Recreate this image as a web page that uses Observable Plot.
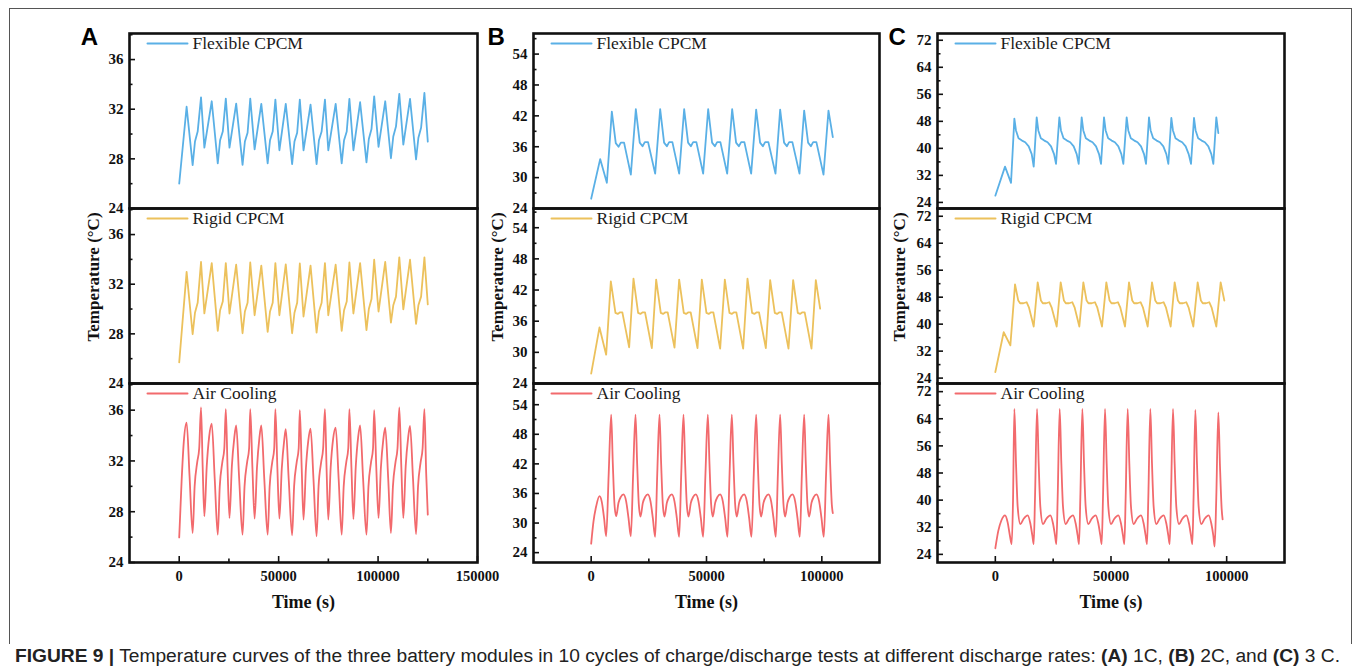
<!DOCTYPE html>
<html>
<head>
<meta charset="utf-8">
<script src="https://cdn.jsdelivr.net/npm/d3@7"></script>
<script src="https://cdn.jsdelivr.net/npm/@observablehq/plot@0.6"></script>
<style>
  html, body { margin: 0; padding: 0; background: #fff; }
  #wrap { position: relative; width: 1355px; height: 672px; overflow: hidden; background: #fff; }
  .panel { position: absolute; }
  #box { position: absolute; left: 9px; top: 8px; width: 1343px; height: 636px; border: 1px solid #555; border-bottom: none; box-sizing: border-box; }
  #cap { position: absolute; left: 15px; top: 645px; font-family: "Liberation Sans", Arial, sans-serif; font-size: 19.2px; color: #222; white-space: nowrap; }
</style>
</head>
<body>
<div id="wrap">
  <div id="box"></div>
  <div id="cap"><b>FIGURE 9 |</b> Temperature curves of the three battery modules in 10 cycles of charge/discharge tests at different discharge rates: <b>(A)</b> 1C, <b>(B)</b> 2C, and <b>(C)</b> 3 C.</div>
</div>
<script>
// ---------- series names ----------
const seriesNames = ["Flexible CPCM", "Rigid CPCM", "Air Cooling"];
const panelLetters = ["A", "B", "C"];

// ---------- Column A (1C) ----------
const timeA = [0,3720,6755,7930,9280,10965,12650,16355,
  19385,20560,21910,23430,25280,28650,
  31850,33030,34380,35725,37915,41280,
  44480,45660,47010,48360,50380,53580,
  56780,57960,59310,60650,62510,66040,
  69080,70260,71610,73285,74970,78675,
  81710,82890,84240,85580,87600,90970,
  94170,95350,96700,98045,100235,103600,
  106470,107650,109000,110675,112700,116070,
  119100,120280,121630,123310,125000];
const flexA = [26.0,32.2,27.5,29.4,30.2,32.96,28.9,32.64,
  27.63,29.5,30.2,32.85,28.9,32.45,
  27.52,29.4,30.1,32.85,28.77,32.43,
  27.63,29.5,30.2,32.77,28.69,32.43,
  27.57,29.4,30.1,32.77,28.69,32.37,
  27.57,29.5,30.2,32.77,28.69,32.43,
  27.63,29.5,30.2,32.83,28.69,32.56,
  27.71,29.6,30.4,33.04,28.96,32.64,
  28.05,29.8,30.6,33.23,29.15,32.83,
  27.95,29.7,30.5,33.31,29.39];
const rigidA = [25.7,32.99,27.97,29.7,30.5,33.79,29.65,33.7,
  28.24,29.9,30.6,33.7,29.64,33.57,
  28.05,29.8,30.5,33.75,29.5,33.5,
  28.16,29.8,30.5,33.7,29.5,33.6,
  28.05,29.7,30.5,33.67,29.4,33.5,
  28.1,29.8,30.5,33.7,29.5,33.57,
  28.24,29.9,30.6,33.75,29.64,33.7,
  28.3,30.0,30.8,33.97,29.8,33.79,
  28.9,30.3,31.0,34.16,29.97,33.97,
  28.8,30.3,31.0,34.16,30.37];
const airTimeA = [0,1200,2300,3720,5200,6755,7755,9055,10055,10965,11800,12650,13850,15050,16355,17855,
  19385,20385,21685,22685,23430,24300,25280,26480,27680,28650,30150,
  31850,32850,34150,35150,35725,36800,37915,39115,40315,41280,42780,
  44480,45480,46780,47780,48360,49350,50380,51580,52780,53580,55080,
  56780,57780,59080,60080,60650,61600,62510,63710,64910,66040,67540,
  69080,70080,71380,72380,73285,74100,74970,76170,77370,78675,80175,
  81710,82710,84010,85010,85580,86600,87600,88800,90000,90970,92470,
  94170,95170,96470,97470,98045,99100,100235,101435,102635,103600,105100,
  106470,107470,108770,109770,110675,111700,112700,113900,115100,116070,117570,
  119100,120100,121400,122400,123310,124200,125000];
const airA = [25.98,30.4,33.5,35.02,30.8,26.32,30.0,31.9,33.0,36.21,31.5,27.64,31.6,33.9,34.94,30.6,
  26.19,30.0,31.9,33.0,36.08,31.5,27.5,31.6,33.8,34.8,30.6,
  26.19,30.0,31.9,33.0,36.08,31.5,27.45,31.5,33.8,34.8,30.6,
  26.19,30.0,31.9,33.0,36.08,31.5,27.45,31.4,33.6,34.5,30.5,
  26.14,30.0,31.9,33.0,36.0,31.4,27.37,31.4,33.6,34.55,30.5,
  26.06,30.0,31.9,33.0,36.08,31.4,27.37,31.5,33.7,34.63,30.6,
  26.19,30.0,31.9,33.0,36.08,31.5,27.42,31.6,33.9,34.8,30.6,
  26.19,30.0,31.9,33.0,36.0,31.5,27.5,31.5,33.7,34.63,30.6,
  26.32,30.0,31.9,33.0,36.21,31.5,27.5,31.6,33.8,34.76,30.6,
  26.24,30.0,31.9,33.0,36.08,31.0,27.77];

// ---------- Column B (2C) ----------
const flexTimeB = [0,3900,6800,8960,10660,11860,12860,14260,17195,
  19360,21060,22260,23260,24660,27745,
  29910,31610,32810,33810,35210,38150,
  40315,42015,43215,44215,45615,48550,
  50720,52420,53620,54620,56020,58960,
  61120,62820,64020,65020,66420,69360,
  71530,73230,74430,75430,76830,79910,
  81930,83630,84830,85830,87230,90315,
  92340,94040,95240,96240,97640,100720,
  102885,104765];
const flexB = [25.9,33.6,29.0,42.84,36.7,36.0,36.8,36.8,30.58,
  43.29,36.8,36.1,36.9,36.9,30.77,
  43.29,36.8,36.1,36.9,36.9,30.77,
  43.29,36.8,36.1,36.9,36.9,30.77,
  43.29,36.8,36.1,36.9,36.9,30.77,
  43.29,36.8,36.1,36.9,36.9,30.77,
  43.2,36.8,36.1,36.9,36.9,30.77,
  43.2,36.8,36.1,36.9,36.9,30.77,
  43.03,36.8,36.1,36.9,36.9,30.58,
  43.03,37.87];
const rigidTimeB = [0,3610,6500,8525,10525,11525,12525,13525,16470,
  18350,20350,21350,22350,23350,26300,
  28180,30180,31180,32180,33180,36125,
  38150,40150,41150,42150,43150,46095,
  47975,49975,50975,51975,52975,55920,
  57945,59945,60945,61945,62945,65890,
  67770,69770,70770,71770,72770,75720,
  77600,79600,80600,81600,82600,85545,
  87570,89570,90570,91570,92570,95515,
  97395,99270];
const rigidB = [25.9,34.8,29.55,43.67,37.6,37.4,37.7,37.7,30.97,
  44.2,37.6,37.4,37.7,37.7,30.8,
  44.0,37.6,37.4,37.7,37.7,30.9,
  44.0,37.6,37.4,37.7,37.7,30.8,
  44.0,37.6,37.4,37.7,37.7,30.7,
  44.0,37.6,37.4,37.7,37.7,30.7,
  44.2,37.6,37.4,37.7,37.7,30.8,
  43.9,37.6,37.4,37.7,37.7,30.7,
  43.9,37.6,37.4,37.7,37.7,30.7,
  43.9,38.4];
const airTimeB = [0,1000,2170,3610,4600,5600,6500,7600,8670,9390,10115,10840,11850,12860,14020,15170,16190,17195,
  18200,19220,19940,20665,21390,22400,23410,24570,25720,26740,27745,
  28650,29620,30340,31065,31790,32800,33810,34970,36120,37140,38150,
  39050,40025,40745,41470,42195,43205,44215,45375,46525,47545,48550,
  49550,50575,51295,52020,52745,53755,54765,55925,57075,58095,59100,
  60000,60980,61700,62425,63150,64160,65170,66330,67480,68500,69505,
  70500,71530,72250,72975,73700,74710,75720,76880,78030,79050,80055,
  80950,81930,82650,83375,84100,85110,86120,87280,88430,89450,90455,
  91350,92335,93055,93780,94505,95515,96525,97685,98835,99855,100860,
  101850,102885,103605,104330,104765];
const airB = [25.8,30.3,33.4,35.45,34.3,31.0,27.3,40.0,52.0,42.0,33.75,31.4,34.1,35.3,35.8,34.4,31.0,27.3,
  40.0,52.0,42.0,33.75,31.3,34.1,35.3,35.8,34.4,31.0,27.2,
  40.0,52.0,42.0,33.75,31.3,34.1,35.3,35.8,34.4,31.0,27.2,
  40.0,52.0,42.0,33.75,31.3,34.1,35.3,35.8,34.4,31.0,27.2,
  40.0,52.0,42.0,33.75,31.3,34.1,35.3,35.8,34.4,31.0,27.2,
  40.0,52.0,42.0,33.75,31.3,34.1,35.3,35.8,34.4,31.0,27.2,
  40.0,52.0,42.0,33.75,31.3,34.1,35.3,35.8,34.4,31.0,27.2,
  40.0,52.0,42.0,33.75,31.3,34.1,35.3,35.8,34.4,31.0,27.2,
  40.0,52.0,42.0,33.75,31.3,34.1,35.3,35.8,34.4,31.0,27.2,
  40.0,52.0,42.0,33.75,32.0];

// ---------- Column C (3C) ----------
const flexTimeC = [0,4190,6785,8226,8926,10026,11526,12926,14426,15726,16582,
  17878,18578,19678,21178,22578,24078,25378,26234,
  27675,28375,29475,30975,32375,33875,35175,36031,
  37328,38028,39128,40628,42028,43528,44828,45683,
  46980,47680,48780,50280,51680,53180,54480,55335,
  56776,57476,58576,60076,61476,62976,64276,65133,
  66429,67129,68229,69729,71129,72629,73929,74785,
  76080,76780,77880,79380,80780,82280,83580,84582,
  85878,86578,87678,89178,90578,92078,93378,94233,
  95530,96394];
const flexC = [26.0,34.6,29.8,48.8,45.3,43.0,42.3,41.8,40.6,38.3,34.6,
  49.2,45.3,43.0,42.3,41.8,40.6,38.3,35.4,
  49.2,45.3,43.0,42.3,41.8,40.6,38.3,35.4,
  49.2,45.3,43.0,42.3,41.8,40.6,38.3,35.4,
  49.2,45.3,43.0,42.3,41.8,40.6,38.3,35.4,
  49.2,45.3,43.0,42.3,41.8,40.6,38.3,35.4,
  49.2,45.3,43.0,42.3,41.8,40.6,38.3,35.4,
  49.0,45.3,43.0,42.3,41.8,40.6,38.3,35.4,
  49.0,45.3,43.0,42.3,41.8,40.6,38.3,35.4,
  49.2,44.5];
const rigidTimeC = [0,3617,6497,8514,9914,10714,12114,13514,14514,16582,
  18311,19711,20511,21911,23311,24311,26524,
  28252,29652,30452,31852,33252,34252,36318,
  38048,39448,40248,41648,43048,44048,46116,
  47989,49389,50189,51589,52989,53989,56056,
  57785,59185,59985,61385,62785,63785,65854,
  67726,69126,69926,71326,72726,73726,75795,
  77523,78923,79723,81123,82523,83523,85589,
  87464,88864,89664,91064,92464,93464,95530,
  97405,98988];
const rigidC = [25.8,37.6,33.7,51.8,47.0,46.2,46.2,46.5,45.0,39.3,
  52.4,47.0,46.2,46.2,46.5,45.0,39.3,
  52.4,47.0,46.2,46.2,46.5,45.0,39.3,
  52.4,47.0,46.2,46.2,46.5,45.0,39.3,
  52.4,47.0,46.2,46.2,46.5,45.0,39.3,
  52.4,47.0,46.2,46.2,46.5,45.0,39.3,
  52.4,47.0,46.2,46.2,46.5,45.0,39.3,
  52.4,47.0,46.2,46.2,46.5,45.0,39.3,
  52.4,47.0,46.2,46.2,46.5,45.0,39.3,
  52.4,47.0];
const airTimeC = [0,1300,2600,4190,5300,6300,7075,7650,8226,8946,9666,10826,12256,13986,15136,16006,16586,
  17156,18023,18743,19463,20623,22053,23783,24933,25803,26383,
  26953,27820,28540,29260,30420,31850,33580,34730,35600,36180,
  36750,37616,38336,39056,40216,41646,43376,44526,45396,45976,
  46546,47412,48132,48852,50012,51442,53172,54322,55192,55772,
  56342,57209,57929,58649,59809,61239,62969,64119,64989,65569,
  66139,67005,67725,68445,69605,71035,72765,73915,74785,75365,
  75935,76802,77522,78242,79402,80832,82562,83712,84582,85162,
  85700,86453,87173,87893,89053,90483,92213,93363,94233,94813,
  95500,96394,97114,97834,98250];
const airC = [25.8,31.0,34.0,35.5,33.5,29.5,27.0,40.0,66.9,50.7,38.0,32.9,34.5,35.5,33.1,29.5,27.0,
  40.9,66.9,50.7,38.0,32.9,34.5,35.5,33.1,29.5,27.0,
  40.9,66.9,50.7,38.0,32.9,34.5,35.5,33.1,29.5,27.0,
  40.9,66.9,50.7,38.0,32.9,34.5,35.5,33.1,29.5,27.0,
  40.9,66.9,50.7,38.0,32.9,34.5,35.5,33.1,29.5,27.0,
  40.9,66.9,50.7,38.0,32.9,34.5,35.5,33.1,29.5,27.0,
  40.9,66.9,50.7,38.0,32.9,34.5,35.5,33.1,29.5,27.0,
  40.9,66.9,50.7,38.0,32.9,34.5,35.5,33.1,29.5,27.0,
  40.9,66.6,50.7,38.0,32.9,34.5,35.5,33.1,29.5,26.3,
  40.5,65.9,50.0,37.5,34.3];

// ---------- axis ticks ----------
const xTicksA = [0, 50000, 100000, 150000];
const xMinorA = [25000, 75000, 125000];
const xTicksBC = [0, 50000, 100000];
const xMinorBC = [25000, 75000];
const yTicksA = [24, 28, 32, 36];
const yMinorA = [26, 30, 34, 38];
const yTicksB = [24, 30, 36, 42, 48, 54];
const yMinorB = [27, 33, 39, 45, 51, 57];
const yTicksC = [24, 32, 40, 48, 56, 64, 72];
const yMinorC = [28, 36, 44, 52, 60, 68];

// ---------- styling / layout ----------
const seriesColors = ["#5AB0E6", "#ECC15C", "#F26A6D"];
const serif = '"Liberation Serif", "Times New Roman", serif';
const cols = [
  {x0: 129, w: 348, xDomain: [-25000, 150000], xT: xTicksA, xM: xMinorA, yT: yTicksA, yM: yMinorA,
   yDomains: [[24, 38.1], [24, 38.1], [24, 38.1]], letterDx: -40, yLabelDx: -36,
   series: [[timeA, flexA], [timeA, rigidA], [airTimeA, airA]]},
  {x0: 533, w: 346, xDomain: [-25000, 125000], xT: xTicksBC, xM: xMinorBC, yT: yTicksB, yM: yMinorB,
   yDomains: [[24, 58], [24, 57.7], [22, 58.3]], letterDx: -37.3, yLabelDx: -36.3,
   series: [[flexTimeB, flexB], [rigidTimeB, rigidB], [airTimeB, airB]]},
  {x0: 937, w: 347, xDomain: [-25000, 125000], xT: xTicksBC, xM: xMinorBC, yT: yTicksC, yM: yMinorC,
   yDomains: [[22.2, 74], [22.4, 74.3], [21.6, 74.4]], letterDx: -40.3, yLabelDx: -38,
   series: [[flexTimeC, flexC], [rigidTimeC, rigidC], [airTimeC, airC]]}
];
const rowTop = [33, 208, 383];
const rowH = [175, 175, 179];
const hline = {draw(context, l) { context.moveTo(0, 0); context.lineTo(l, 0); }};

const wrap = document.getElementById("wrap");

cols.forEach((C, ci) => {
  for (let r = 0; r < 3; r++) {
    const [ts, vs] = C.series[r];
    const data = ts.map((t, i) => ({t, v: vs[i]}));
    const bottom = r === 2;
    const mL = 60, mR = 10, mT = 10, mB = bottom ? 60 : 10;
    const marks = [
      Plot.line(data, {x: "t", y: "v", stroke: seriesColors[r], strokeWidth: 1.8,
        curve: r === 2 ? "monotone-x" : "linear"}),
      Plot.frame({strokeWidth: 2.6, stroke: "#111"}),
      Plot.axisY(C.yT, {tickSize: -6, tickPadding: 12, strokeWidth: 1.6, stroke: "#111",
        tickFormat: d => String(d), fontSize: 15, fontWeight: "bold", fill: "#111", label: null}),
      Plot.axisY(C.yM, {tickSize: -3.5, strokeWidth: 1.6, stroke: "#111", fill: "none", label: null}),
      Plot.vector([seriesNames[r]], {frameAnchor: "top-left", dx: 18, dy: 10, length: 40, anchor: "start",
        shape: hline, stroke: seriesColors[r], strokeWidth: 2}),
      Plot.text([seriesNames[r]], {frameAnchor: "top-left", dx: 63, dy: 10, text: d => d,
        textAnchor: "start", lineAnchor: "middle", fontSize: 17.5, fontWeight: "normal", fill: "#1a1a1a"})
    ];
    if (r === 0) {
      marks.push(Plot.text([panelLetters[ci]], {frameAnchor: "top-left", dx: C.letterDx, dy: 3.5, text: d => d,
        fontFamily: '"Liberation Sans", Arial, sans-serif', fontSize: 24, fontWeight: "bold",
        textAnchor: "middle", lineAnchor: "middle", fill: "#000"}));
    }
    if (r === 1) {
      marks.push(Plot.text(["Temperature (°C)"], {frameAnchor: "left", rotate: -90, dx: C.yLabelDx, dy: -19,
        text: d => d, textAnchor: "middle", lineAnchor: "middle", fontSize: 17, fontWeight: "bold", fill: "#111"}));
    }
    if (bottom) {
      marks.push(
        Plot.axisX(C.xT, {tickSize: -6, tickPadding: 14, strokeWidth: 1.6, stroke: "#111",
          tickFormat: d => String(d), fontSize: 14.5, fontWeight: "bold", fill: "#111", label: null}),
        Plot.axisX(C.xM, {tickSize: -3.5, strokeWidth: 1.6, stroke: "#111", fill: "none", label: null}),
        Plot.text(["Time (s)"], {frameAnchor: "bottom", dy: 40, text: d => d, lineAnchor: "middle",
          fontSize: 18, fontWeight: "bold", fill: "#111"})
      );
    }
    const xOpts = bottom ? {domain: C.xDomain} : {domain: C.xDomain, axis: null};
    const svg = Plot.plot({
      width: C.w + mL + mR,
      height: rowH[r] + mT + mB,
      marginLeft: mL, marginRight: mR, marginTop: mT, marginBottom: mB,
      x: xOpts,
      y: {domain: C.yDomains[r]},
      style: {fontFamily: serif, fontSize: "14px", color: "#111", background: "transparent", overflow: "visible"},
      marks
    });
    svg.classList.add("panel");
    svg.style.position = "absolute";
    svg.style.left = (C.x0 - mL) + "px";
    svg.style.top = (rowTop[r] - mT) + "px";
    svg.style.maxWidth = "none";
    wrap.appendChild(svg);
  }
});
</script>
</body>
</html>
